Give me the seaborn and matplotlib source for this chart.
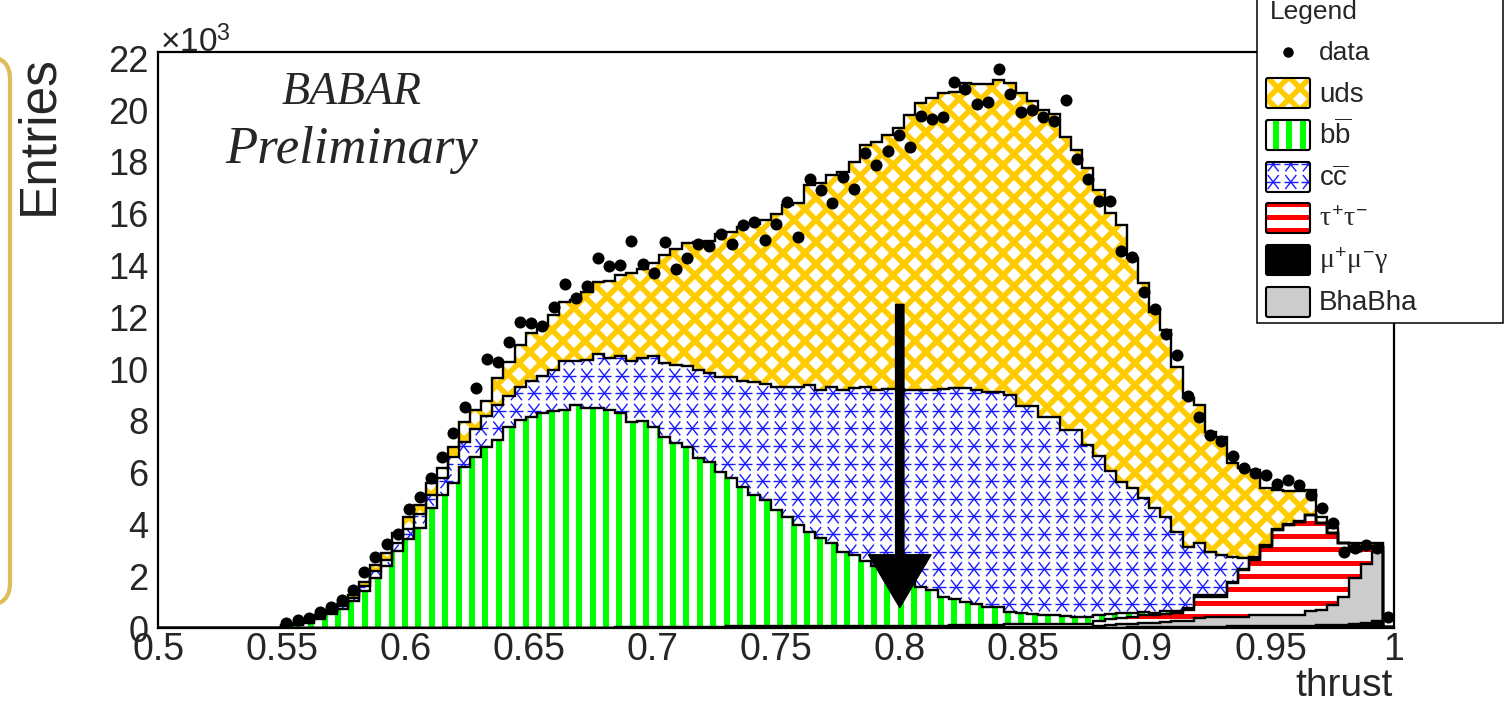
import numpy as np
import matplotlib
matplotlib.use("Agg")
import matplotlib.pyplot as plt
import seaborn as sns
from matplotlib.collections import LineCollection
from matplotlib.patches import FancyBboxPatch, Rectangle
from matplotlib.lines import Line2D
from matplotlib.path import Path
from matplotlib.transforms import Affine2D
from matplotlib.ticker import MultipleLocator, FixedLocator, FixedFormatter

# ---------------- binning ----------------
thrust_min, thrust_max, n_bins = 0.5, 1.0, 111
first_bin = 11          # the value lists below start at this bin

# ---------------- values (x10^3 entries), bins 11 .. 110 ----------------
data_k = [
    0.19, 0.32, 0.41, 0.62, 0.83, 1.09, 1.48, 2.16, 2.74, 3.25,
    3.64, 4.59, 5.06, 5.81, 6.62, 7.54, 8.53, 9.29, 10.38, 10.29,
    11.04, 11.83, 11.77, 11.68, 12.39, 13.28, 12.76, 13.22, 14.29, 13.98,
    14.02, 14.95, 14.06, 13.72, 14.91, 13.86, 14.30, 14.82, 14.75, 15.22,
    14.83, 15.57, 15.67, 14.97, 15.60, 16.46, 15.11, 17.34, 16.92, 16.43,
    17.43, 16.96, 18.33, 17.87, 18.43, 19.05, 18.59, 19.77, 19.64, 19.73,
    21.10, 20.80, 20.22, 20.32, 21.57, 20.61, 19.91, 20.00, 19.74, 19.59,
    20.39, 18.10, 17.34, 16.49, 16.49, 14.57, 14.32, 12.99, 12.31, 11.36,
    10.54, 8.98, 8.17, 7.46, 7.24, 6.66, 6.20, 5.98, 5.92, 5.56,
    5.72, 5.53, 5.15, 4.65, 4.08, 2.96, 3.09, 3.22, 3.09, 0.45,
]
mumug_k = [
    0.01, 0.01, 0.01, 0.01, 0.01, 0.01, 0.01, 0.01, 0.01, 0.01,
    0.01, 0.01, 0.01, 0.01, 0.01, 0.01, 0.01, 0.01, 0.01, 0.01,
    0.01, 0.01, 0.01, 0.01, 0.01, 0.01, 0.01, 0.01, 0.01, 0.01,
    0.02, 0.02, 0.02, 0.02, 0.02, 0.02, 0.02, 0.02, 0.02, 0.02,
    0.02, 0.02, 0.02, 0.02, 0.02, 0.02, 0.02, 0.02, 0.02, 0.02,
    0.02, 0.02, 0.02, 0.02, 0.02, 0.02, 0.02, 0.02, 0.02, 0.02,
    0.03, 0.03, 0.03, 0.03, 0.03, 0.03, 0.03, 0.03, 0.03, 0.03,
    0.03, 0.03, 0.03, 0.03, 0.03, 0.03, 0.04, 0.04, 0.04, 0.05,
    0.05, 0.05, 0.06, 0.06, 0.06, 0.07, 0.07, 0.08, 0.08, 0.09,
    0.10, 0.10, 0.10, 0.11, 0.12, 0.14, 0.17, 0.22, 0.28, 0.05,
]
bhabha_k = [
    0.00, 0.00, 0.00, 0.00, 0.00, 0.00, 0.00, 0.00, 0.00, 0.00,
    0.00, 0.00, 0.00, 0.00, 0.00, 0.00, 0.00, 0.00, 0.00, 0.00,
    0.00, 0.00, 0.00, 0.00, 0.00, 0.00, 0.00, 0.00, 0.00, 0.00,
    0.00, 0.00, 0.00, 0.00, 0.00, 0.00, 0.00, 0.00, 0.00, 0.00,
    0.01, 0.01, 0.01, 0.01, 0.01, 0.01, 0.01, 0.01, 0.01, 0.01,
    0.01, 0.01, 0.01, 0.01, 0.01, 0.01, 0.01, 0.01, 0.01, 0.01,
    0.03, 0.03, 0.03, 0.03, 0.03, 0.03, 0.03, 0.03, 0.03, 0.03,
    0.03, 0.03, 0.03, 0.07, 0.09, 0.12, 0.14, 0.16, 0.18, 0.20,
    0.23, 0.25, 0.34, 0.36, 0.39, 0.38, 0.38, 0.42, 0.42, 0.41,
    0.40, 0.40, 0.55, 0.59, 0.78, 1.06, 1.78, 2.28, 2.68, 0.00,
]
tautau_k = [
    0.02, 0.02, 0.02, 0.02, 0.02, 0.02, 0.02, 0.02, 0.02, 0.02,
    0.02, 0.02, 0.02, 0.02, 0.02, 0.02, 0.02, 0.02, 0.02, 0.02,
    0.02, 0.02, 0.02, 0.02, 0.02, 0.02, 0.02, 0.02, 0.02, 0.02,
    0.04, 0.04, 0.04, 0.04, 0.04, 0.04, 0.04, 0.04, 0.04, 0.04,
    0.04, 0.04, 0.04, 0.04, 0.04, 0.04, 0.04, 0.04, 0.04, 0.04,
    0.06, 0.06, 0.06, 0.06, 0.06, 0.06, 0.06, 0.06, 0.06, 0.06,
    0.06, 0.06, 0.06, 0.06, 0.06, 0.10, 0.10, 0.10, 0.10, 0.10,
    0.10, 0.10, 0.10, 0.20, 0.23, 0.25, 0.27, 0.30, 0.28, 0.30,
    0.32, 0.40, 0.82, 0.80, 0.77, 1.29, 1.80, 2.14, 2.65, 3.29,
    3.49, 3.61, 3.72, 3.35, 2.77, 2.08, 1.05, 0.60, 0.19, 0.00,
]
bbbar_k = [
    0.03, 0.09, 0.19, 0.33, 0.52, 0.73, 1.02, 1.42, 1.92, 2.37,
    2.97, 3.40, 3.83, 4.60, 5.11, 5.57, 6.21, 6.59, 6.98, 7.24,
    7.75, 8.01, 8.14, 8.27, 8.37, 8.40, 8.59, 8.46, 8.46, 8.40,
    8.24, 7.91, 7.93, 7.72, 7.34, 7.10, 6.95, 6.50, 6.37, 5.98,
    5.72, 5.40, 5.07, 4.88, 4.50, 4.24, 3.92, 3.66, 3.40, 3.21,
    2.87, 2.74, 2.51, 2.31, 2.11, 1.91, 1.71, 1.51, 1.39, 1.13,
    1.03, 0.91, 0.83, 0.71, 0.71, 0.48, 0.44, 0.39, 0.35, 0.34,
    0.31, 0.29, 0.26, 0.22, 0.20, 0.18, 0.15, 0.12, 0.10, 0.10,
    0.08, 0.07, 0.05, 0.05, 0.05, 0.05, 0.04, 0.02, 0.02, 0.01,
    0.01, 0.01, 0.00, 0.00, 0.00, 0.00, 0.00, 0.00, 0.00, 0.00,
]
ccbar_k = [
    0.04, 0.06, 0.08, 0.08, 0.07, 0.09, 0.13, 0.17, 0.25, 0.22,
    0.30, 0.42, 0.54, 0.52, 0.66, 1.00, 0.96, 1.08, 1.19, 1.33,
    1.17, 1.26, 1.38, 1.45, 1.55, 1.90, 1.71, 1.87, 2.09, 1.99,
    2.19, 2.36, 2.43, 2.71, 2.82, 3.00, 3.12, 3.40, 3.44, 3.67,
    3.89, 4.08, 4.38, 4.48, 4.73, 5.02, 5.34, 5.66, 5.73, 6.05,
    6.24, 6.43, 6.70, 6.80, 7.05, 7.25, 7.40, 7.60, 7.72, 8.03,
    8.12, 8.24, 8.25, 8.30, 8.30, 8.35, 7.96, 8.01, 7.63, 7.64,
    7.17, 7.19, 6.65, 6.13, 5.53, 5.07, 4.80, 4.40, 4.03, 3.66,
    3.05, 2.38, 2.01, 1.69, 1.56, 0.97, 0.41, 0.09, 0.05, 0.03,
    0.02, 0.02, 0.01, 0.01, 0.00, 0.00, 0.00, 0.00, 0.00, 0.00,
]
uds_k = [
    0.02, 0.04, 0.05, 0.06, 0.08, 0.10, 0.12, 0.18, 0.24, 0.27,
    0.37, 0.43, 0.35, 0.45, 0.38, 0.41, 0.77, 0.73, 0.58, 1.05,
    1.34, 1.63, 1.84, 1.93, 2.15, 2.28, 2.34, 2.63, 2.80, 2.99,
    3.16, 3.40, 3.46, 3.61, 4.19, 4.49, 4.72, 4.96, 5.08, 5.49,
    5.63, 5.95, 6.08, 6.33, 6.70, 7.01, 7.07, 7.71, 8.00, 8.17,
    8.42, 8.74, 9.35, 9.58, 9.79, 10.05, 10.61, 11.06, 11.26, 11.40,
    11.44, 11.76, 11.80, 11.87, 12.03, 12.04, 12.09, 11.77, 11.86, 11.71,
    11.33, 10.82, 10.68, 10.27, 9.94, 9.92, 8.90, 8.29, 7.59, 7.20,
    6.37, 5.73, 5.34, 4.63, 4.57, 3.61, 3.48, 3.36, 2.18, 1.51,
    1.29, 1.17, 0.96, 0.25, 0.19, 0.02, 0.29, 0.20, 0.15, 0.00,
]

x_ticks = [0.5, 0.55, 0.6, 0.65, 0.7, 0.75, 0.8, 0.85, 0.9, 0.95, 1.0]
x_tick_labels = ["0.5", "0.55", "0.6", "0.65", "0.7", "0.75", "0.8", "0.85", "0.9", "0.95", "1"]
y_ticks = [0, 2, 4, 6, 8, 10, 12, 14, 16, 18, 20, 22]
y_tick_labels = ["0", "2", "4", "6", "8", "10", "12", "14", "16", "18", "20", "22"]
y_max = 22.24

arrow_x, arrow_from, arrow_to = 0.8, 12.5, 0.8

legend_labels = ["uds", r"b$\overline{\mathrm{b}}$", r"c$\overline{\mathrm{c}}$",
                 r"$\tau^{+}\tau^{-}$", r"$\mu^{+}\mu^{-}\gamma$", "BhaBha"]

# ---------------- style ----------------
sns.set_theme(style="white")
plt.rcParams["font.family"] = ["Liberation Sans", "DejaVu Sans"]
plt.rcParams["mathtext.fontset"] = "custom"
plt.rcParams["mathtext.rm"] = "Liberation Sans"
plt.rcParams["mathtext.it"] = "Liberation Serif"
plt.rcParams["mathtext.bf"] = "Liberation Sans:bold"

W, H, DPI = 1504, 702, 100
fig = plt.figure(figsize=(W / DPI, H / DPI), dpi=DPI)
fig.patch.set_facecolor("white")
# pixel coordinates of the picture (origin top-left, y downwards)
PIX = Affine2D().scale(1.0, -1.0).translate(0, H).scale(1.0 / DPI) + fig.dpi_scale_trans

ax = fig.add_axes([158.4 / W, (H - 628.3) / H, (1394 - 158.4) / W, (628.3 - 52) / H])
ax.set_facecolor("white")


def texture(kind):
    """Fill texture (ROOT-like hatch) in picture pixel units."""
    if kind == "diamonds":
        c = np.arange(-H, W + H, 22.0)
        segs = [[(ci, 0), (ci + H, H)] for ci in c] + [[(ci, 0), (ci - H, H)] for ci in c]
        return segs, "#ffcc00", 4.0
    if kind == "vstripes":
        return [[(x, 0), (x, H)] for x in np.arange(3, W, 13.4)], "#00ff00", 4.3
    if kind == "hstripes":
        return [[(0, y), (W, y)] for y in np.arange(4, H, 13.3)], "#ff0000", 3.6
    if kind == "stars":
        segs = []
        for cx in np.arange(6, W, 17.6):
            for cy in np.arange(6, H, 17.6):
                segs.append([(cx - 7, cy), (cx + 7, cy)])
                segs.append([(cx - 5.5, cy - 7), (cx + 5.5, cy + 7)])
                segs.append([(cx - 5.5, cy + 7), (cx + 5.5, cy - 7)])
        return segs, "#1a1aff", 1.0
    raise ValueError(kind)


def textured(kind, zorder):
    segs, col, lw = texture(kind)
    return LineCollection(segs, colors=col, linewidths=lw, transform=PIX, zorder=zorder,
                          capstyle="butt")


layer_style = {
    "mumug": ("solid", "black"),
    "bhabha": ("solid", "#cccccc"),
    "tautau": ("hstripes", None),
    "bbbar": ("vstripes", None),
    "ccbar": ("stars", None),
    "uds": ("diamonds", None),
}
layers = [("mumug", mumug_k), ("bhabha", bhabha_k), ("tautau", tautau_k),
          ("bbbar", bbbar_k), ("ccbar", ccbar_k), ("uds", uds_k)]

edges = np.linspace(thrust_min, thrust_max, n_bins + 1)
centers = 0.5 * (edges[:-1] + edges[1:])


def full(vals):
    return np.concatenate([np.zeros(first_bin), np.asarray(vals, dtype=float)])


lower = np.zeros(n_bins)
tops = []
for name, vals in layers:
    upper = lower + full(vals)
    kind, color = layer_style[name]
    face = color if kind == "solid" else "white"
    coll = ax.fill_between(edges, np.append(lower, lower[-1]), np.append(upper, upper[-1]),
                           step="post", facecolor=face, edgecolor="none", linewidth=0, zorder=1)
    if kind != "solid":
        lc = textured(kind, 1.5)
        lc.set_clip_path(Path.make_compound_path(*coll.get_paths()), ax.transData)
        ax.add_collection(lc, autolim=False)
    tops.append(upper)
    lower = upper

for top in tops:
    ax.stairs(top, edges, baseline=None, color="black", linewidth=1.7, zorder=3)

# data points
data_full = full(data_k)
mask = data_full > 0
sns.scatterplot(x=centers[mask], y=data_full[mask], ax=ax, color="black", s=75,
                linewidth=0, zorder=5, legend=False)

# arrow
ax.annotate("", xy=(arrow_x, arrow_to), xytext=(arrow_x, arrow_from),
            arrowprops=dict(arrowstyle="simple,head_length=3.8,head_width=4.5,tail_width=0.6",
                            mutation_scale=10, color="black", shrinkA=0, shrinkB=0),
            zorder=6)

# axes
ax.set_xlim(thrust_min, thrust_max)
ax.set_ylim(0, y_max)
ax.xaxis.set_major_locator(FixedLocator(x_ticks))
ax.xaxis.set_major_formatter(FixedFormatter(x_tick_labels))
ax.yaxis.set_major_locator(FixedLocator(y_ticks))
ax.yaxis.set_major_formatter(FixedFormatter(y_tick_labels))
ax.xaxis.set_minor_locator(MultipleLocator(0.01))
ax.yaxis.set_minor_locator(MultipleLocator(0.5))
ax.tick_params(axis="both", which="both", direction="in", top=False, right=False,
               color="black", width=1.3, zorder=7)
ax.tick_params(axis="x", which="major", length=12, labelsize=27, pad=3.0)
ax.tick_params(axis="x", which="minor", length=6)
ax.tick_params(axis="y", which="major", length=25, labelsize=26, pad=7)
ax.tick_params(axis="y", which="minor", length=12.5)
for sp in ax.spines.values():
    sp.set_color("black")
    sp.set_linewidth(1.6)
    sp.set_zorder(8)
ax.set_xlabel("")
ax.set_ylabel("")

# ---------------- figure texts ----------------
fig.text(39, 135, "Entries", transform=PIX, rotation=90, ha="center", va="center", fontsize=37)
fig.text(160, 52, "\u00d710$^{3}$", transform=PIX, ha="left", va="baseline", fontsize=24)
fig.text(1393, 696, "thrust", transform=PIX, ha="right", va="baseline", fontsize=28)
fig.text(352, 104, "BABAR", transform=PIX, ha="center", va="baseline", fontsize=33,
         family=["Liberation Serif", "DejaVu Serif"], style="italic")
fig.text(352, 163, "Preliminary", transform=PIX, ha="center", va="baseline", fontsize=38,
         family=["Liberation Serif", "DejaVu Serif"], style="italic")

# rounded bracket on the left
fig.add_artist(FancyBboxPatch((-80, 57), 90, 548, boxstyle="round,pad=0,rounding_size=22",
                              transform=PIX, facecolor="none", edgecolor="#e0bb5a", linewidth=3.0))

# ---------------- legend ----------------
fig.add_artist(Rectangle((1257, -10), 246, 333, transform=PIX, facecolor="white",
                         edgecolor="black", linewidth=1.1, zorder=10))
fig.text(1270, 19, "Legend", transform=PIX, ha="left", va="baseline", fontsize=19, zorder=11)
fig.add_artist(Line2D([1288], [52], transform=PIX, marker="o", markersize=6.5, color="black",
                      linestyle="none", zorder=11))
fig.text(1319, 60, "data", transform=PIX, ha="left", va="baseline", fontsize=19, zorder=11)

swatch_kinds = ["diamonds", "vstripes", "stars", "hstripes", "black", "#cccccc"]
swatch_y = [93, 135, 177, 218, 260, 302]
for label, kind, cy in zip(legend_labels, swatch_kinds, swatch_y):
    solid = kind in ("black", "#cccccc")
    base = FancyBboxPatch((1266, cy - 15), 44, 30, boxstyle="round,pad=0,rounding_size=2",
                          transform=PIX, facecolor=kind if solid else "white",
                          edgecolor="none", zorder=11)
    fig.add_artist(base)
    if not solid:
        lc = textured(kind, 12)
        lc.set_clip_path(base)
        fig.add_artist(lc)
    fig.add_artist(FancyBboxPatch((1266, cy - 15), 44, 30, boxstyle="round,pad=0,rounding_size=2",
                                  transform=PIX, facecolor="none", edgecolor="black",
                                  linewidth=1.5, zorder=13))
    fig.text(1319, cy + 8.5, label, transform=PIX, ha="left", va="baseline", fontsize=20, zorder=13)

fig.savefig("out.png", dpi=DPI, facecolor="white")
